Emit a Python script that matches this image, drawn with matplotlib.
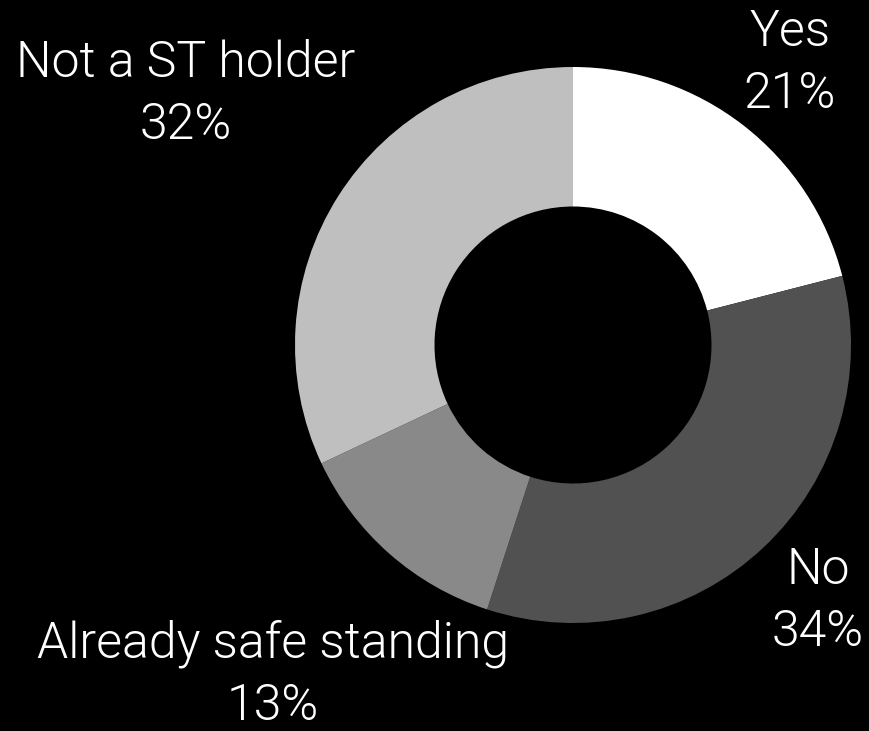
import matplotlib.pyplot as plt

labels = ['Yes', 'No', 'Already safe standing', 'Not a ST holder']
shares = [21, 34, 13, 32]
colors = ['#ffffff', '#515151', '#898989', '#bfbfbf']

# label anchor points in pixel space (x, y from top)
label_pos = [(790, 63), (818, 601), (273, 675), (186, 94)]

W, H = 869, 731
fig = plt.figure(figsize=(W / 100, H / 100), dpi=100, facecolor='black')
ax = fig.add_axes([0, 0, 1, 1])
ax.set_facecolor('black')

R = 278
ax.pie(shares, colors=colors, startangle=90, counterclock=False,
       center=(573, H - 345), radius=R, frame=True,
       wedgeprops=dict(width=R - 138.5, linewidth=0))
ax.set_xlim(0, W)
ax.set_ylim(0, H)
ax.axis('off')

for lab, val, (x, y) in zip(labels, shares, label_pos):
    ax.text(x, H - y, f'{lab}\n{val}%', color='white', ha='center', va='center',
            fontsize=36, family='Roboto', fontweight=300, linespacing=1.38)

fig.savefig('out.png', dpi=100, facecolor='black')
